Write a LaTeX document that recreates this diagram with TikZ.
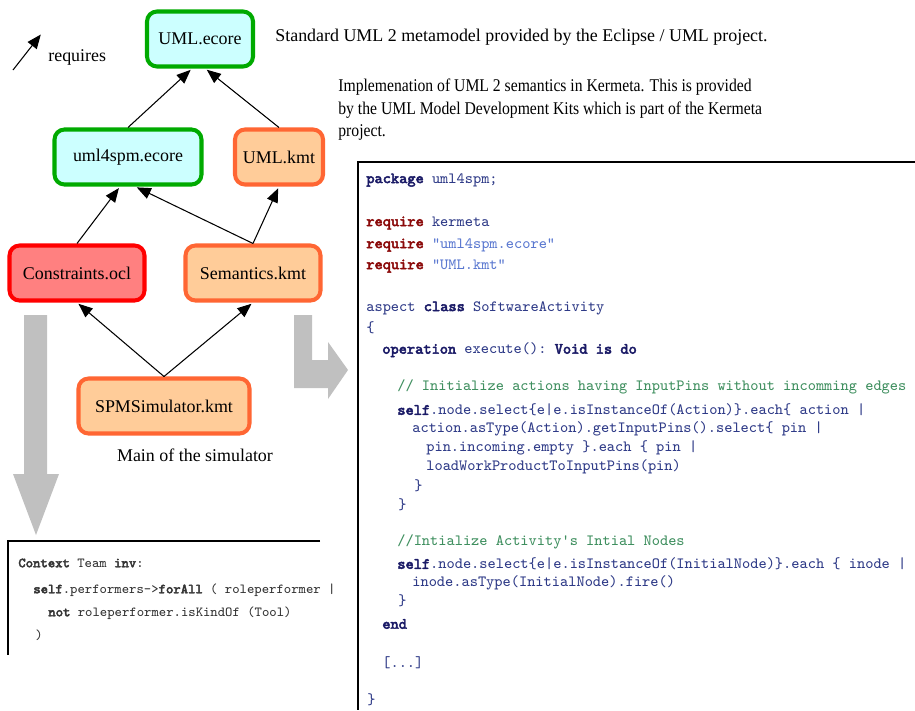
\documentclass[tikz,border=0pt]{standalone}
\usepackage{fontspec}
\setmainfont{Liberation Serif}
\setmonofont{Latin Modern Mono}[AutoFakeBold=3]
\newfontfamily\narrowserif{Liberation Serif}[FakeStretch=0.875]
\usetikzlibrary{arrows.meta}

\definecolor{ecorefill}{HTML}{CCFFFF}
\definecolor{ecoreline}{HTML}{00AA00}
\definecolor{kmtfill}{HTML}{FFCC99}
\definecolor{kmtline}{HTML}{FF6633}
\definecolor{oclfill}{HTML}{FF8080}
\definecolor{oclline}{HTML}{FF0000}
\definecolor{biggray}{HTML}{C0C0C0}
\definecolor{codefg}{HTML}{2E3A87}
\definecolor{codekw}{HTML}{1A1A66}
\definecolor{codereq}{HTML}{8B0A0A}
\definecolor{codestr}{HTML}{5A78D0}
\definecolor{codecmt}{HTML}{3F8F5F}

\newcommand{\kw}[1]{\textbf{\color{codekw}#1}}
\newcommand{\reqkw}[1]{\textbf{\color{codereq}#1}}
\newcommand{\strlit}[1]{{\color{codestr}#1}}
\newcommand{\cmt}[1]{{\color{codecmt}#1}}

\begin{document}
\begin{tikzpicture}[x=0.02cm, y=-0.02cm,
  file/.style={rounded corners=0.2cm, line width=2.3pt, minimum height=1.1cm,
               font=\fontsize{10.2}{12.5}\selectfont},
  ecore/.style={file, draw=ecoreline, fill=ecorefill},
  kmt/.style={file, draw=kmtline, fill=kmtfill},
  ocl/.style={file, draw=oclline, fill=oclfill},
  req/.style={-{Triangle[length=8pt,width=6.5pt]}, line width=0.6pt, shorten >=1.1pt},
  desc/.style={font=\fontsize{10.2}{12.6}\selectfont, inner sep=0pt},
  codeline/.style={anchor=west, inner sep=0pt, text=codefg,
                   font=\ttfamily\fontsize{8.9}{10}\selectfont},
  ocltext/.style={anchor=west, inner sep=0pt, text=black!80,
                  font=\ttfamily\fontsize{7.9}{9}\selectfont}]
\useasboundingbox (0,0) rectangle (915,710);

\node[ecore, minimum width=2.12cm] (umlecore) at (200,39) {UML.ecore};
\node[ecore, minimum width=2.94cm] (uml4spm) at (128,157) {uml4spm.ecore};
\node[kmt, minimum width=1.76cm] (umlkmt) at (279,157) {UML.kmt};
\node[ocl, minimum width=2.7cm] (constraints) at (77,273) {Constraints.ocl};
\node[kmt, minimum width=2.7cm] (semantics) at (253,273) {Semantics.kmt};
\node[kmt, minimum width=3.42cm] (simulator) at (164,406) {SPMSimulator.kmt};
\node[desc] (simnote) at (195,455) {Main of the simulator};

\draw[req] (uml4spm.north) -- ([xshift=-4.5pt]umlecore.south);
\draw[req] (umlkmt.north) -- ([xshift=3pt]umlecore.south);
\draw[req] (constraints.north) -- ([xshift=-4.5pt]uml4spm.south);
\draw[req] (semantics.north) -- ([xshift=4pt]uml4spm.south);
\draw[req] (semantics.north) -- (umlkmt.south);
\draw[req] (simulator.north) -- (constraints.south);
\draw[req] (simulator.north) -- (semantics.south);

% legend
\coordinate (legfoot) at (13,70);
\coordinate (leghead) at (42,33);
\draw[req] (legfoot) -- (leghead);
\node[desc, anchor=west] (reqlabel) at (48,57) {requires};

\node[desc, anchor=west] (stdnote) at (275,37)
  {Standard UML 2 metamodel provided by the Eclipse / UML project.};
\node[desc, anchor=north west, align=left,
      font=\narrowserif\fontsize{10.2}{12.6}\selectfont] (kmtnote) at (338,79)
  {Implemenation of UML 2 semantics in Kermeta. This is provided\\
   by the UML Model Development Kits which is part of the Kermeta\\
   project.};

\fill[biggray] (24,315) -- (47,315) -- (47,474) -- (59,474) -- (36,535) --
               (13,474) -- (24,474) -- cycle;
\fill[biggray] (294,315) -- (312,315) -- (312,360) -- (328,360) -- (328,342) --
               (348,370) -- (328,399) -- (328,388) -- (294,388) -- cycle;

\draw[line width=0.6pt] (915,162) -- (358,162) -- (358,710);
\node[codeline] (c1) at (366,180) {\kw{package} uml4spm;};
\node[codeline] (c2) at (366,223) {\reqkw{require} kermeta};
\node[codeline] (c3) at (366,245) {\reqkw{require} \strlit{"uml4spm.ecore"}};
\node[codeline] (c4) at (366,266) {\reqkw{require} \strlit{"UML.kmt"}};
\node[codeline] (c5) at (366,308) {aspect \kw{class} SoftwareActivity};
\node[codeline] (c6) at (366,328) {\{};
\node[codeline] (c7) at (382,350) {\kw{operation} execute(): \kw{Void is do}};
\node[codeline] (c8) at (397,387) {\cmt{// Initialize actions having InputPins without incomming edges}};
\node[codeline] (c9) at (397,410) {\kw{self}.node.select\{e|e.isInstanceOf(Action)\}.each\{ action |};
\node[codeline] (c10) at (412,429) {action.asType(Action).getInputPins().select\{ pin |};
\node[codeline] (c11) at (426,448) {pin.incoming.empty \}.each \{ pin |};
\node[codeline] (c12) at (426,467) {loadWorkProductToInputPins(pin)};
\node[codeline] (c13) at (414,486) {\}};
\node[codeline] (c14) at (398,505) {\}};
\node[codeline] (c15) at (397,542) {\cmt{//Intialize Activity's Intial Nodes}};
\node[codeline] (c16) at (397,564) {\kw{self}.node.select\{e|e.isInstanceOf(InitialNode)\}.each \{ inode |};
\node[codeline] (c17) at (412,583) {inode.asType(InitialNode).fire()};
\node[codeline] (c18) at (398,601) {\}};
\node[codeline] (c19) at (382,624) {\kw{end}};
\node[codeline] (c20) at (382,663) {[...]};
\node[codeline] (c21) at (367,700) {\}};

\draw[line width=0.6pt] (320,541) -- (8,541) -- (8,655);
\node[ocltext] (o1) at (18,563) {\textbf{Context} Team \textbf{inv}:};
\node[ocltext] (o2) at (33,590) {\textbf{self}.performers->\textbf{forAll} ( roleperformer |};
\node[ocltext] (o3) at (48,613) {\textbf{not} roleperformer.isKindOf (Tool)};
\node[ocltext] (o4) at (35,635) {)};
\end{tikzpicture}
\end{document}
